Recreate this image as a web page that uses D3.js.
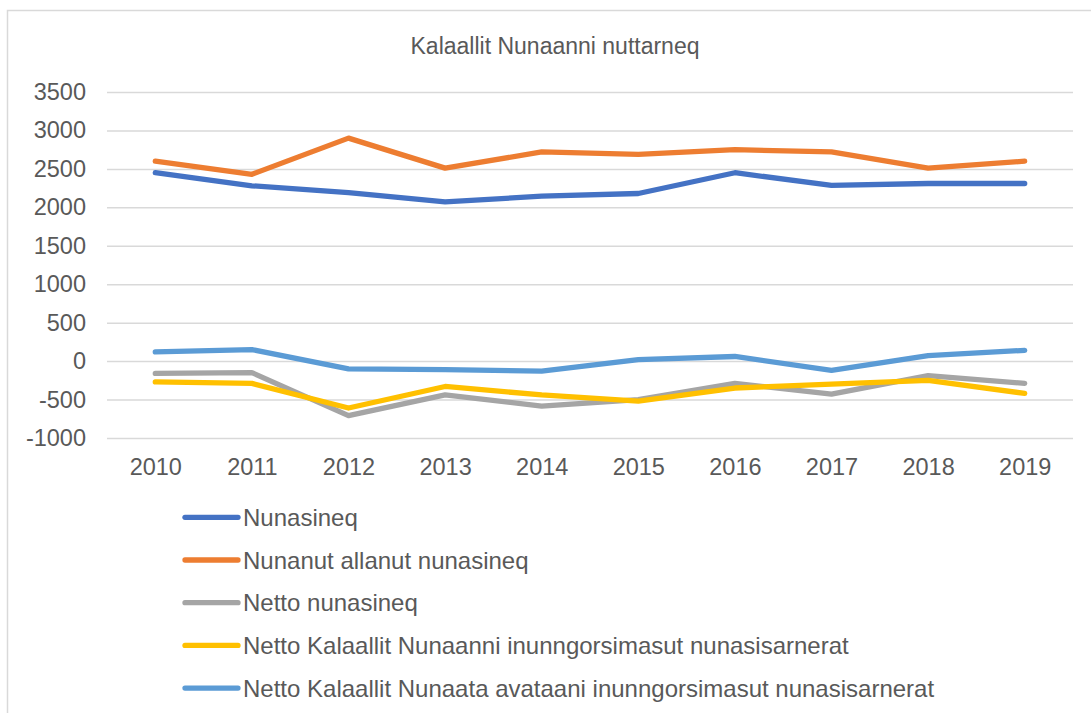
<!DOCTYPE html>
<html>
<head>
<meta charset="utf-8">
<script src="https://cdn.jsdelivr.net/npm/d3@7"></script>
<style>
  html, body { margin: 0; padding: 0; background: #fff; }
  svg { display: block; }
  text { font-family: "Liberation Sans", Arial, sans-serif; fill: #595959; }
</style>
</head>
<body>
<svg id="chart" width="1091" height="713"></svg>
<script>
const title = "Kalaallit Nunaanni nuttarneq";
const years = ["2010","2011","2012","2013","2014","2015","2016","2017","2018","2019"];
const yTicks = [-1000,-500,0,500,1000,1500,2000,2500,3000,3500];

const nunasineq        = [2450, 2280, 2190, 2070, 2145, 2180, 2450, 2285, 2310, 2310];
const nunanutAllanut   = [2600, 2430, 2900, 2510, 2720, 2690, 2750, 2720, 2510, 2600];
const nettoNunasineq   = [-160, -150, -710, -440, -585, -500, -290, -430, -190, -290];
const nettoKalNunaanni = [-270, -290, -610, -330, -440, -520, -350, -300, -250, -420];
const nettoKalNunaata  = [120, 150, -100, -110, -130, 20, 60, -120, 70, 140];

const seriesNames = [
  "Nunasineq",
  "Nunanut allanut nunasineq",
  "Netto nunasineq",
  "Netto Kalaallit Nunaanni inunngorsimasut nunasisarnerat",
  "Netto Kalaallit Nunaata avataani inunngorsimasut nunasisarnerat"
];
const seriesValues = [nunasineq, nunanutAllanut, nettoNunasineq, nettoKalNunaanni, nettoKalNunaata];
const colors = ["#4472C4", "#ED7D31", "#A5A5A5", "#FFC000", "#5B9BD5"];

const svg = d3.select("#chart");

// chart border
svg.append("rect")
  .attr("x", 7.5).attr("y", 10.5)
  .attr("width", 1091).attr("height", 713)
  .attr("fill", "none").attr("stroke", "#d9d9d9").attr("stroke-width", 1.5);

const x = d3.scalePoint().domain(years).range([107, 1073]).padding(0.5);
const y = d3.scaleLinear().domain([-1000, 3500]).range([438, 92]);

// title
svg.append("text")
  .attr("x", 555).attr("y", 54)
  .attr("text-anchor", "middle")
  .style("font-size", "23px")
  .text(title);

// gridlines + y labels
const yAxis = d3.axisLeft(y).tickValues(yTicks).tickSize(-(1073 - 107)).tickPadding(21).tickFormat(d => String(d));
const gy = svg.append("g").attr("transform", "translate(107,0)").call(yAxis);
gy.select(".domain").remove();
gy.selectAll(".tick line").attr("stroke", "#d9d9d9").attr("stroke-width", 1.5);
gy.selectAll(".tick text").style("font-size", "23.5px").attr("fill", "#595959");

// x axis labels
const xAxis = d3.axisBottom(x).tickSize(0).tickPadding(20);
const gx = svg.append("g").attr("transform", "translate(0,438)").call(xAxis);
gx.select(".domain").remove();
gx.selectAll(".tick text").style("font-size", "23.5px").attr("fill", "#595959");

// lines
const line = d3.line().x((d, i) => x(years[i])).y(d => y(d));
seriesValues.forEach((vals, k) => {
  svg.append("path")
    .datum(vals)
    .attr("d", line)
    .attr("fill", "none")
    .attr("stroke", colors[k])
    .attr("stroke-width", 5.3)
    .attr("stroke-linecap", "round")
    .attr("stroke-linejoin", "round");
});

// legend
const legend = svg.append("g");
seriesNames.forEach((name, k) => {
  const ly = 517.3 + k * 42.7;
  legend.append("line")
    .attr("x1", 185).attr("x2", 238)
    .attr("y1", ly).attr("y2", ly)
    .attr("stroke", colors[k]).attr("stroke-width", 5.3).attr("stroke-linecap", "round");
  legend.append("text")
    .attr("x", 243).attr("y", ly + 8.5)
    .style("font-size", "24px")
    .text(name);
});
</script>
</body>
</html>
